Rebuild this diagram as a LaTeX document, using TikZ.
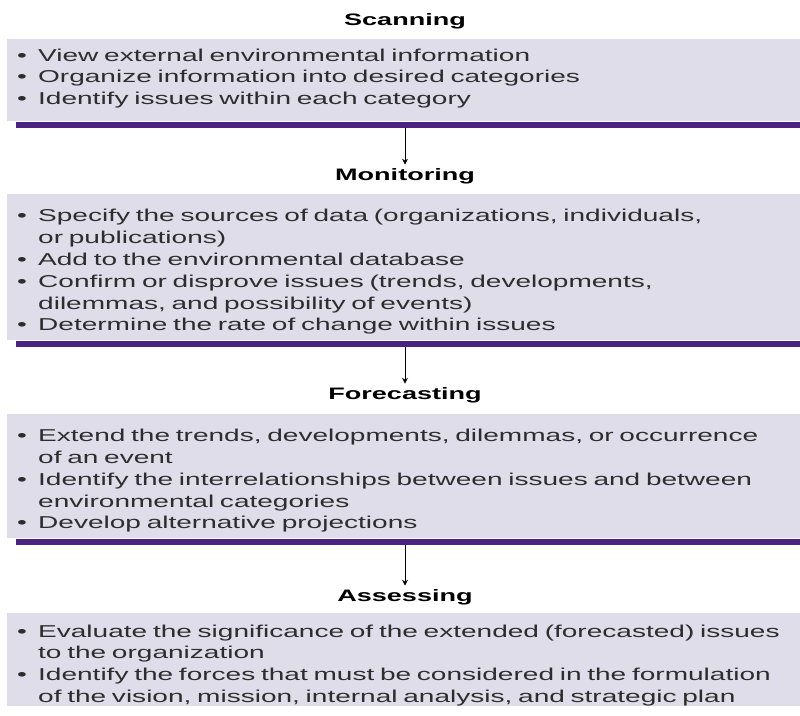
\documentclass[tikz,border=0pt]{standalone}
\usepackage{fontspec}
\setmainfont{Liberation Sans}[FakeStretch=1.63]
\usepackage{tikz}
\usetikzlibrary{arrows.meta}

\definecolor{boxfill}{RGB}{224,221,235}
\definecolor{barpurple}{RGB}{75,35,130}
\definecolor{txtgray}{RGB}{45,45,45}

\newcommand\itm[1]{\par\hangindent=21pt\hangafter=1\noindent\makebox[21pt][l]{\textbullet}#1\par}

\tikzset{
  stage/.style={font=\bfseries\fontsize{16.6}{19}\selectfont, text=black},
  box/.style={fill=boxfill, text=txtgray, anchor=north west, text width=800pt,
    inner xsep=10pt, inner ysep=0pt, align=left, font=\fontsize{17.2}{21.8}\selectfont},
  bar/.style={fill=barpurple, anchor=north west, minimum width=784pt, minimum height=6pt, inner sep=0pt},
  arr/.style={-{Stealth[length=6pt,width=6pt]}, line width=0.8pt},
}

\begin{document}
\begin{tikzpicture}[x=1pt, y=-1pt]
    \useasboundingbox (0,0) rectangle (800,715);

    \node (t1) at (405,21) [stage] {Scanning};
    \node (t2) at (405,176) [stage] {Monitoring};
    \node (t3) at (405,395) [stage] {Forecasting};
    \node (t4) at (405,597) [stage] {Assessing};

    \node (b1) at (7,39) [box, minimum height=81pt] {%
      \itm{View external environmental information}
      \itm{Organize information into desired categories}
      \itm{Identify issues within each category}
      \vspace*{13pt}};
    \node (b2) at (7,194) [box, minimum height=146pt] {%
      \itm{Specify the sources of data (organizations, individuals,\newline or publications)}
      \itm{Add to the environmental database}
      \itm{Confirm or disprove issues (trends, developments,\newline dilemmas, and possibility of events)}
      \itm{Determine the rate of change within issues}};
    \node (b3) at (7,414) [box, minimum height=124pt] {%
      \itm{Extend the trends, developments, dilemmas, or occurrence\newline of an event}
      \itm{Identify the interrelationships between issues and between\newline environmental categories}
      \itm{Develop alternative projections}};
    \node (b4) at (7,613) [box, minimum height=92pt] {%
      \vspace*{2pt}
      \itm{Evaluate the significance of the extended (forecasted) issues\newline to the organization}
      \itm{Identify the forces that must be considered in the formulation\newline of the vision, mission, internal analysis, and strategic plan}};

    \node (l1) at ([xshift=9pt]b1.south west) [bar] {};
    \node (l2) at ([xshift=9pt]b2.south west) [bar] {};
    \node (l3) at ([xshift=9pt]b3.south west) [bar] {};

    \foreach \from/\to in {l1/t2, l2/t3, l3/t4} {
      \draw[arr] (\from.south -| \to) -- (\to.north);
    }
\end{tikzpicture}
\end{document}
